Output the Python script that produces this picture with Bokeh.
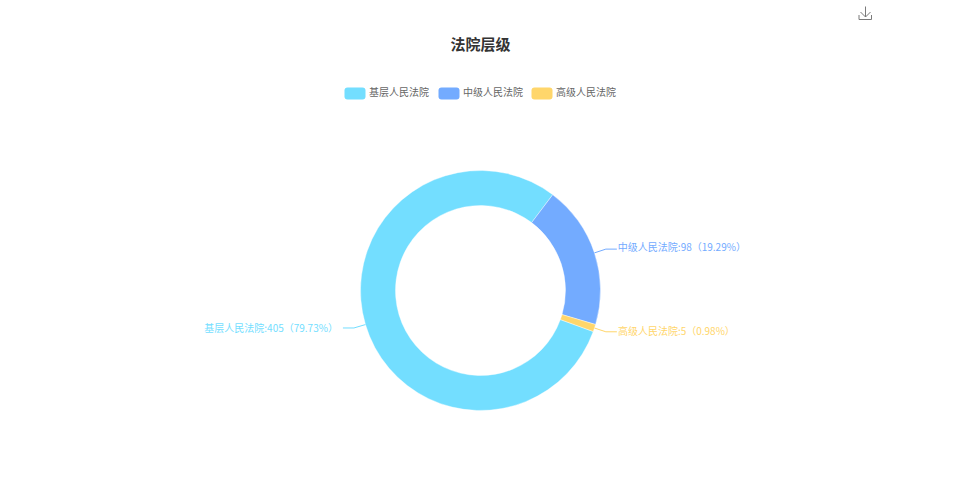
import math
from bokeh.embed import file_html
from bokeh.models import ColumnDataSource, Range1d
from bokeh.plotting import figure
from bokeh.resources import INLINE
from bokeh.core.properties import value

title = "法院层级"
categories = ["基层人民法院", "中级人民法院", "高级人民法院"]
counts = [405, 98, 5]
percents = ["79.73%", "19.29%", "0.98%"]
colors = ["#73DEFF", "#73ABFF", "#FFD66B"]

FONT = value("Noto Sans CJK SC")
W, H = 950, 490
def X(px): return px
def Y(py): return H - py

p = figure(width=W, height=H, output_backend="svg", toolbar_location=None,
           x_range=Range1d(0, W), y_range=Range1d(0, H), min_border=0)
p.axis.visible = False
p.grid.visible = False
p.outline_line_color = None

# Ring
cx, cy = 480, 290
r_in, r_out = 85, 120
start_cw = 110.0  # clockwise degrees from 12 o'clock
total = sum(counts)
starts, ends, mids = [], [], []
a = start_cw
for c in counts:
    sweep = 360 * c / total
    # math angles run counter-clockwise, the ring runs clockwise
    starts.append(math.radians(90 - (a + sweep)))
    ends.append(math.radians(90 - a))
    mids.append(math.radians(90 - (a + sweep / 2)))
    a += sweep

src = ColumnDataSource(dict(start=starts, end=ends, color=colors))
p.annular_wedge(x=X(cx), y=Y(cy), inner_radius=r_in, outer_radius=r_out,
                inner_radius_units="data", outer_radius_units="data",
                start_angle="start", end_angle="end", fill_color="color",
                line_color="white", line_width=0.4, source=src)

# Leader lines and outside labels
label_dy = [0.5, 2.5, 1.5]
for name, n, pct, col, m, dy in zip(categories, counts, percents, colors, mids, label_dy):
    c_, s_ = math.cos(m), math.sin(m)
    x0, y0 = X(cx) + r_out * c_, Y(cy) + r_out * s_
    x1, y1 = X(cx) + 132 * c_, Y(cy) + 132 * s_
    sign = 1 if c_ > 0 else -1
    x2 = x1 + sign * 11
    gap = 1 if sign > 0 else 5
    p.line([x0, x1, x2], [y0, y1, y1], line_color=col, line_width=1)
    p.text(x=[x2 + sign * gap], y=[y1 + dy], text=[f"{name}:{n}（{pct}）"],
           text_color=col, text_font=FONT, text_font_size="10px",
           text_align="left" if sign > 0 else "right", text_baseline="middle")

# Title
p.text(x=[X(480)], y=[Y(42.5)], text=[title], text_color="#333333", text_font=FONT,
       text_font_size="15px", text_font_style="bold", text_align="center", text_baseline="middle")

# Legend
legend_x = [344, 438, 531]
for lx, name, col in zip(legend_x, categories, colors):
    p.rect(x=[X(lx + 10.5)], y=[Y(93)], width=21, height=12, fill_color=col, line_color=None,
           border_radius=3)
    p.text(x=[X(lx + 24.5)], y=[Y(91)], text=[name], text_color="#666666", text_font=FONT,
           text_font_size="10px", text_align="left", text_baseline="middle")

# Download icon
p.multi_line(xs=[[X(865), X(865)], [X(860), X(865), X(870)], [X(858.5), X(858.5), X(871), X(871)]],
             ys=[[Y(6), Y(16.5)], [Y(11.5), Y(16.5), Y(11.5)], [Y(14.5), Y(19), Y(19), Y(14.5)]],
             line_color="#7a7a7a", line_width=1)

open("out.html", "w").write(file_html(p, INLINE))
